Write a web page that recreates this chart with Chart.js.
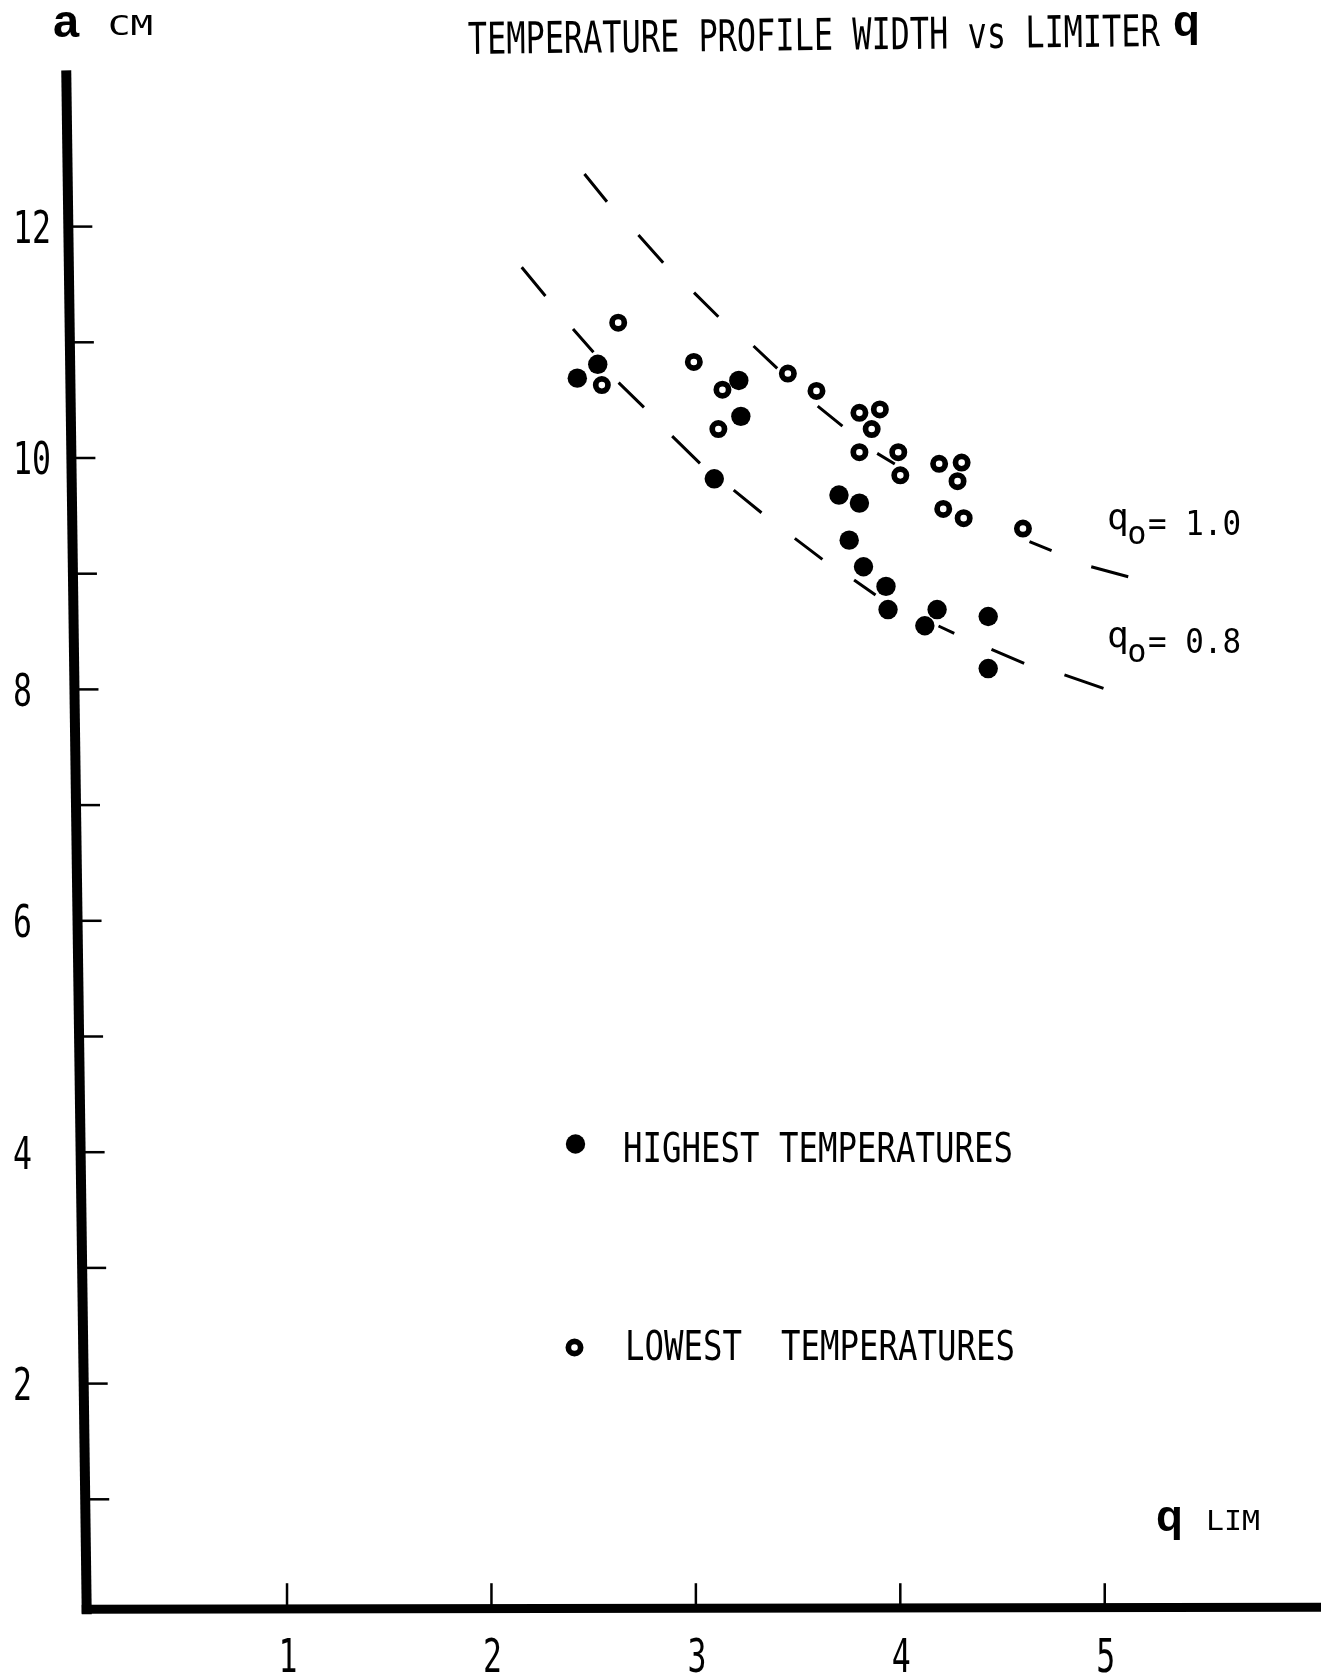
<!DOCTYPE html>
<html>
<head>
<meta charset="utf-8">
<title>Temperature profile width vs limiter q</title>
<script src="https://cdn.jsdelivr.net/npm/chart.js@4.4.1/dist/chart.umd.min.js"></script>
<style>
  html, body { margin: 0; padding: 0; background: #fff; }
  canvas { display: block; }
</style>
</head>
<body>
<canvas id="qChart" width="1321" height="1676"></canvas>
<script>
// highest temperatures (filled dots): q LIM and a (cm)
var highQ = [2.42, 2.52, 3.21, 3.22, 3.09, 3.70, 3.80, 3.75, 3.82, 3.93, 3.94, 4.12, 4.18, 4.43, 4.43];
var highA = [10.69, 10.81, 10.67, 10.36, 9.82, 9.68, 9.61, 9.29, 9.06, 8.89, 8.69, 8.55, 8.69, 8.63, 8.18];

// lowest temperatures (open dots)
var lowQ = [2.62, 2.54, 2.99, 3.13, 3.11, 3.45, 3.59, 3.80, 3.90, 3.86, 3.80, 3.99, 4.00, 4.19, 4.30, 4.28, 4.21, 4.31, 4.60];
var lowA = [11.17, 10.63, 10.83, 10.59, 10.25, 10.73, 10.58, 10.39, 10.42, 10.25, 10.05, 10.05, 9.85, 9.95, 9.96, 9.80, 9.56, 9.48, 9.39];

// dashed curves, read dash by dash (null = gap)
var q10Q = [2.455, 2.565, null, 2.719, 2.840, null, 2.991, 3.110, null, 3.282, 3.398, null,
            3.596, 3.717, null, 3.887, 3.973, null, 4.632, 4.740, null, 4.934, 5.115];
var q10A = [12.455, 12.215, null, 11.927, 11.688, null, 11.429, 11.221, null, 10.968, 10.775, null,
            10.449, 10.276, null, 10.040, 9.948, null, 9.277, 9.199, null, 9.060, 8.974];
var q08Q = [2.148, 2.264, null, 2.399, 2.499, null, 2.622, 2.746, null, 2.884, 3.020, null,
            3.185, 3.321, null, 3.484, 3.619, null, 3.774, 3.879, null, 4.187, 4.264, null,
            4.446, 4.606, null, 4.803, 4.994];
var q08A = [11.648, 11.400, null, 11.115, 10.914, null, 10.651, 10.438, null, 10.189, 9.954, null,
            9.723, 9.527, null, 9.305, 9.124, null, 8.945, 8.816, null, 8.548, 8.484, null,
            8.346, 8.225, null, 8.125, 8.009];

// axes
var xTicks = [1, 2, 3, 4, 5];
var xTickLabels = ['1', '2', '3', '4', '5'];
var yTicks = [1, 2, 3, 4, 5, 6, 7, 8, 9, 10, 11, 12];
var yTickLabels = ['', '2', '', '4', '', '6', '', '8', '', '10', '', '12'];
var xMax = 6;
var yMax = 13.35;

function pts(xs, ys) {
  return xs.map(function (v, i) { return { x: v, y: ys[i] }; });
}

// typewriter-ish text: mono font squeezed to the wanted width
function typeText(ctx, str, x, base, cap, width, align) {
  var size = cap / 0.729;
  ctx.save();
  ctx.font = size + 'px "DejaVu Sans Mono"';
  var w = ctx.measureText(str).width;
  var left = x;
  if (align === 'center') left = x - width / 2;
  if (align === 'right') left = x - width;
  ctx.translate(left, base);
  ctx.scale(width / w, 1);
  ctx.textAlign = 'left';
  ctx.textBaseline = 'alphabetic';
  ctx.fillText(str, 0, 0);
  ctx.restore();
}

function bigQ(ctx, x, base) {
  ctx.save();
  ctx.font = 'bold 44px "Liberation Sans"';
  ctx.textAlign = 'left';
  ctx.textBaseline = 'alphabetic';
  ctx.fillText('q', x, base);
  ctx.restore();
}

function qLabel(ctx, x, base, txt) {
  ctx.save();
  ctx.textAlign = 'left';
  ctx.textBaseline = 'alphabetic';
  ctx.font = '36px "DejaVu Sans Mono"';
  ctx.fillText('q', x - 3, base - 6);
  ctx.textAlign = 'center';
  ctx.font = '32px "DejaVu Sans Mono"';
  ctx.fillText('o', x + 27, base + 9);
  ctx.restore();
  typeText(ctx, txt, x + 38, base, 25, 93, 'left');
}

var paperPlugin = {
  id: 'paper',
  afterDraw: function (chart) {
    var ctx = chart.ctx;
    var xs = chart.scales.x, ys = chart.scales.y;
    ctx.save();
    ctx.fillStyle = '#000';
    ctx.strokeStyle = '#000';

    // axes (the vertical one leans a little, as on the original sheet)
    var yBase = ys.getPixelForValue(0.05);
    var topX = xs.getPixelForValue(-0.08), topY = ys.getPixelForValue(yMax);
    var botX = xs.getPixelForValue(0.02);
    function axisX(py) { return topX + (botX - topX) * (py - topY) / (yBase - topY); }

    ctx.lineWidth = 10;
    ctx.lineCap = 'butt';
    ctx.beginPath();
    ctx.moveTo(topX, topY);
    ctx.lineTo(axisX(yBase + 5), yBase + 5);
    ctx.stroke();

    ctx.lineWidth = 9;
    ctx.beginPath();
    ctx.moveTo(botX - 5, yBase);
    ctx.lineTo(chart.width, yBase - 2);
    ctx.stroke();

    // y ticks and labels
    ctx.lineWidth = 2.5;
    yTicks.forEach(function (v, i) {
      var py = ys.getPixelForValue(v);
      var ax = axisX(py);
      ctx.beginPath();
      ctx.moveTo(ax + 4, py);
      ctx.lineTo(ax + 24, py);
      ctx.stroke();
      var lab = yTickLabels[i];
      if (lab) typeText(ctx, lab, 13, py + 16.5, 33, 19 * lab.length, 'left');
    });

    // x ticks and labels
    xTicks.forEach(function (v, i) {
      var px = xs.getPixelForValue(v);
      ctx.beginPath();
      ctx.moveTo(px, yBase - 4);
      ctx.lineTo(px, yBase - 26);
      ctx.stroke();
      typeText(ctx, xTickLabels[i], px + 1, 1672, 34, 19, 'center');
    });

    // axis titles
    ctx.font = 'bold 47px "Liberation Sans"';
    ctx.textAlign = 'left';
    ctx.textBaseline = 'alphabetic';
    ctx.fillText('a', 53, 37);
    typeText(ctx, 'CM', 108, 35, 20, 45, 'left');

    bigQ(ctx, 1156, 1531);
    typeText(ctx, 'LIM', 1206, 1530, 19, 54, 'left');

    // title, slightly tilted like the scan
    ctx.save();
    ctx.translate(468, 54);
    ctx.rotate(-0.0115);
    typeText(ctx, 'TEMPERATURE PROFILE WIDTH vs LIMITER', 0, 0, 32, 692, 'left');
    ctx.restore();
    bigQ(ctx, 1173, 36);

    // curve labels
    qLabel(ctx, 1110, 535, '= 1.0');
    qLabel(ctx, 1110, 653, '= 0.8');

    // legend
    ctx.beginPath();
    ctx.arc(575.5, 1144, 9.7, 0, Math.PI * 2);
    ctx.fill();
    typeText(ctx, 'HIGHEST TEMPERATURES', 623, 1162, 30, 390, 'left');

    ctx.lineWidth = 5.7;
    ctx.beginPath();
    ctx.arc(574.5, 1347.5, 6.15, 0, Math.PI * 2);
    ctx.stroke();
    typeText(ctx, 'LOWEST  TEMPERATURES', 625, 1360, 30, 390, 'left');

    ctx.restore();
  }
};

var ctx = document.getElementById('qChart');
var chart = new Chart(ctx, {
  type: 'scatter',
  data: {
    datasets: [
      {
        label: 'HIGHEST TEMPERATURES',
        data: pts(highQ, highA),
        pointRadius: 9.7,
        pointBackgroundColor: '#000',
        pointBorderWidth: 0,
        order: 0
      },
      {
        label: 'LOWEST TEMPERATURES',
        data: pts(lowQ, lowA),
        pointRadius: 6.15,
        pointBorderWidth: 5.7,
        pointBorderColor: '#000',
        pointBackgroundColor: '#fff',
        order: 0
      },
      {
        label: 'q0 = 1.0',
        data: pts(q10Q, q10A),
        showLine: true,
        spanGaps: false,
        pointRadius: 0,
        borderColor: '#000',
        borderWidth: 3,
        order: 1
      },
      {
        label: 'q0 = 0.8',
        data: pts(q08Q, q08A),
        showLine: true,
        spanGaps: false,
        pointRadius: 0,
        borderColor: '#000',
        borderWidth: 3,
        order: 1
      }
    ]
  },
  options: {
    responsive: false,
    animation: false,
    events: [],
    layout: { padding: { left: 82.6, right: 2.4, top: 70.4, bottom: 61 } },
    plugins: {
      legend: { display: false },
      tooltip: { enabled: false },
      title: { display: false }
    },
    scales: {
      x: { type: 'linear', min: 0, max: xMax, display: false },
      y: { type: 'linear', min: 0, max: yMax, display: false }
    }
  },
  plugins: [paperPlugin]
});
</script>
</body>
</html>
